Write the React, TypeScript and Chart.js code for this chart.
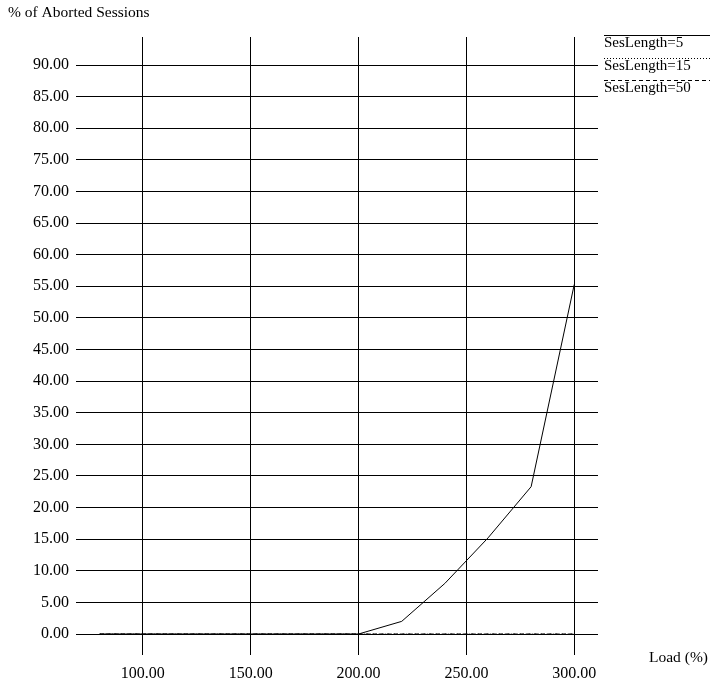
import React, { useEffect, useRef } from "react";
import { Chart, registerables } from "chart.js";

Chart.register(...registerables);

const loads = [80, 100, 120, 140, 160, 180, 200, 220, 240, 260, 280, 300];
const ses5 = [0, 0, 0, 0, 0, 0, 0, 2, 8, 15.2, 23.3, 55.3];
const ses15 = [0, 0, 0, 0, 0, 0, 0, 0, 0, 0, 0, 0];
const ses50 = [0, 0, 0, 0, 0, 0, 0, 0, 0, 0, 0, 0];
const seriesNames = ["SesLength=5", "SesLength=15", "SesLength=50"];
const seriesDashes = [[], [1, 2], [4, 3]];
const xTicks = [100, 150, 200, 250, 300];
const yTicks = [0, 5, 10, 15, 20, 25, 30, 35, 40, 45, 50, 55, 60, 65, 70, 75, 80, 85, 90];
const yTitle = "% of Aborted Sessions";
const xTitle = "Load (%)";

const FONT = "'Liberation Serif', 'Times New Roman', serif";

const overlayPlugin = {
  id: "overlay",
  afterDraw(chart: any) {
    const ctx = chart.ctx;
    ctx.save();
    ctx.fillStyle = "#000";
    ctx.font = `15.5px ${FONT}`;
    ctx.textAlign = "left";
    ctx.textBaseline = "middle";
    ctx.fillText(yTitle, 8, 13);
    ctx.fillText(xTitle, 649, 658);
    // legend
    ctx.font = `15px ${FONT}`;
    const lineYs = [35.5, 58.5, 80.5];
    seriesNames.forEach((name, i) => {
      ctx.strokeStyle = "#000";
      ctx.lineWidth = 1;
      ctx.setLineDash(seriesDashes[i]);
      ctx.beginPath();
      ctx.moveTo(604, lineYs[i]);
      ctx.lineTo(710, lineYs[i]);
      ctx.stroke();
      ctx.setLineDash([]);
      ctx.textBaseline = "top";
      ctx.fillText(name, 604, lineYs[i] + 0.5);
    });
    ctx.restore();
  },
};

export default function App() {
  const ref = useRef<HTMLCanvasElement>(null);
  useEffect(() => {
    if (!ref.current) return;
    const mk = (data: number[], i: number) => ({
      label: seriesNames[i],
      data: loads.map((x, k) => ({ x, y: data[k] })),
      borderColor: "#000",
      borderWidth: 1,
      borderDash: seriesDashes[i],
      pointRadius: 0,
      fill: false,
      tension: 0,
    });
    const chart = new Chart(ref.current, {
      type: "line",
      data: {
        datasets: [mk(ses5, 0), mk(ses15, 1), mk(ses50, 2)],
      },
      options: {
        animation: false,
        responsive: true,
        maintainAspectRatio: false,
        layout: { padding: { top: 37, right: 112, left: 0, bottom: 0 } },
        plugins: { legend: { display: false }, tooltip: { enabled: false } },
        scales: {
          x: {
            type: "linear",
            min: 69,
            max: 311,
            border: { display: false },
            grid: { color: "#000", lineWidth: 1, drawTicks: false },
            ticks: {
              color: "#000",
              padding: 9,
              font: { family: FONT, size: 16 },
              callback: (v: any) => Number(v).toFixed(2),
            },
            afterBuildTicks: (s: any) => {
              s.ticks = xTicks.map((value) => ({ value }));
            },
            afterFit: (s: any) => {
              s.height = 32;
            },
          },
          y: {
            type: "linear",
            min: -3.32,
            max: 94.43,
            border: { display: false },
            grid: { color: "#000", lineWidth: 1, drawTicks: false },
            ticks: {
              color: "#000",
              padding: 7,
              font: { family: FONT, size: 16 },
              callback: (v: any) => Number(v).toFixed(2),
            },
            afterBuildTicks: (s: any) => {
              s.ticks = yTicks.map((value) => ({ value }));
            },
            afterFit: (s: any) => {
              s.width = 76;
            },
          },
        },
      },
      plugins: [overlayPlugin],
    });
    return () => chart.destroy();
  }, []);
  return (
    <div style={{ position: "absolute", left: 0, top: 0, width: 710, height: 687, background: "#fff" }}>
      <canvas ref={ref} />
    </div>
  );
}
